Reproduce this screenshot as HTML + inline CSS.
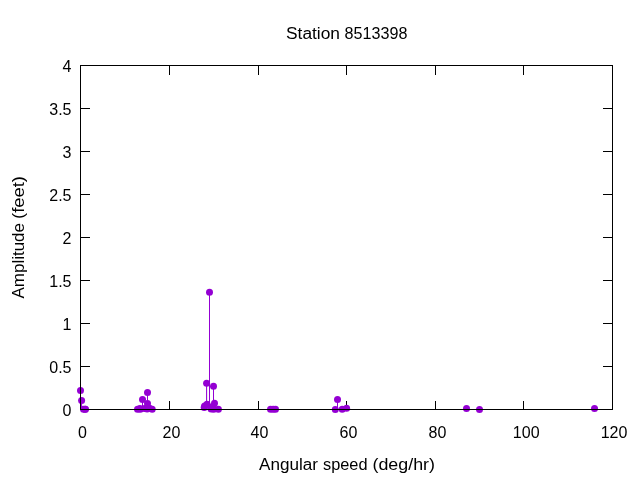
<!DOCTYPE html>
<html lang="en"><head><meta charset="utf-8"><title>Station 8513398</title>
<style>
html,body{margin:0;padding:0;background:#fff;}
svg{display:block;}
text{font-family:"Liberation Sans", sans-serif;font-size:16px;fill:#000;}
</style></head>
<body>
<svg width="640" height="480" viewBox="0 0 640 480">
<rect width="640" height="480" fill="#fff"/>
<g stroke="#000" stroke-width="1" fill="none" shape-rendering="crispEdges">
<line x1="80.5" y1="366.5" x2="90.0" y2="366.5"/>
<line x1="612.5" y1="366.5" x2="603.0" y2="366.5"/>
<line x1="80.5" y1="323.5" x2="90.0" y2="323.5"/>
<line x1="612.5" y1="323.5" x2="603.0" y2="323.5"/>
<line x1="80.5" y1="280.5" x2="90.0" y2="280.5"/>
<line x1="612.5" y1="280.5" x2="603.0" y2="280.5"/>
<line x1="80.5" y1="237.5" x2="90.0" y2="237.5"/>
<line x1="612.5" y1="237.5" x2="603.0" y2="237.5"/>
<line x1="80.5" y1="194.5" x2="90.0" y2="194.5"/>
<line x1="612.5" y1="194.5" x2="603.0" y2="194.5"/>
<line x1="80.5" y1="151.5" x2="90.0" y2="151.5"/>
<line x1="612.5" y1="151.5" x2="603.0" y2="151.5"/>
<line x1="80.5" y1="108.5" x2="90.0" y2="108.5"/>
<line x1="612.5" y1="108.5" x2="603.0" y2="108.5"/>
<line x1="169.5" y1="409.5" x2="169.5" y2="401.0"/>
<line x1="169.5" y1="65.5" x2="169.5" y2="75.0"/>
<line x1="258.5" y1="409.5" x2="258.5" y2="401.0"/>
<line x1="258.5" y1="65.5" x2="258.5" y2="75.0"/>
<line x1="346.5" y1="409.5" x2="346.5" y2="401.0"/>
<line x1="346.5" y1="65.5" x2="346.5" y2="75.0"/>
<line x1="435.5" y1="409.5" x2="435.5" y2="401.0"/>
<line x1="435.5" y1="65.5" x2="435.5" y2="75.0"/>
<line x1="523.5" y1="409.5" x2="523.5" y2="401.0"/>
<line x1="523.5" y1="65.5" x2="523.5" y2="75.0"/>
</g>
<g stroke="#9400d3" stroke-width="1.05" fill="none">
<line x1="80.50" y1="390.40" x2="80.50" y2="409.50"/>
<line x1="81.60" y1="400.50" x2="81.60" y2="409.50"/>
<line x1="142.50" y1="399.40" x2="142.50" y2="409.50"/>
<line x1="147.50" y1="403.50" x2="147.50" y2="409.50"/>
<line x1="147.50" y1="392.50" x2="147.50" y2="409.50"/>
<line x1="206.60" y1="383.25" x2="206.60" y2="409.50"/>
<line x1="207.00" y1="404.30" x2="207.00" y2="409.50"/>
<line x1="209.50" y1="292.30" x2="209.50" y2="409.50"/>
<line x1="213.50" y1="386.30" x2="213.50" y2="409.50"/>
<line x1="214.50" y1="403.30" x2="214.50" y2="409.50"/>
<line x1="337.50" y1="399.40" x2="337.50" y2="409.50"/>
</g>
<g fill="#9400d3">
<circle cx="80.50" cy="390.40" r="3.5"/>
<circle cx="81.60" cy="400.50" r="3.5"/>
<circle cx="83.50" cy="409.30" r="3.5"/>
<circle cx="85.10" cy="409.30" r="3.5"/>
<circle cx="85.50" cy="409.30" r="3.5"/>
<circle cx="137.50" cy="409.20" r="3.5"/>
<circle cx="139.90" cy="408.60" r="3.5"/>
<circle cx="140.30" cy="409.20" r="3.5"/>
<circle cx="142.50" cy="399.40" r="3.5"/>
<circle cx="144.40" cy="408.40" r="3.5"/>
<circle cx="149.60" cy="408.30" r="3.5"/>
<circle cx="147.50" cy="403.50" r="3.5"/>
<circle cx="147.10" cy="409.00" r="3.5"/>
<circle cx="147.50" cy="392.50" r="3.5"/>
<circle cx="152.20" cy="409.30" r="3.5"/>
<circle cx="204.20" cy="407.50" r="3.5"/>
<circle cx="204.60" cy="406.00" r="3.5"/>
<circle cx="206.60" cy="383.25" r="3.5"/>
<circle cx="207.00" cy="404.30" r="3.5"/>
<circle cx="209.50" cy="292.30" r="3.5"/>
<circle cx="211.10" cy="409.00" r="3.5"/>
<circle cx="211.40" cy="407.00" r="3.5"/>
<circle cx="213.30" cy="408.00" r="3.5"/>
<circle cx="213.50" cy="386.30" r="3.5"/>
<circle cx="213.70" cy="409.30" r="3.5"/>
<circle cx="214.50" cy="403.30" r="3.5"/>
<circle cx="218.40" cy="409.30" r="3.5"/>
<circle cx="270.50" cy="409.30" r="3.5"/>
<circle cx="273.20" cy="409.30" r="3.5"/>
<circle cx="275.50" cy="409.30" r="3.5"/>
<circle cx="335.30" cy="409.40" r="3.5"/>
<circle cx="337.50" cy="399.40" r="3.5"/>
<circle cx="342.20" cy="409.30" r="3.5"/>
<circle cx="346.60" cy="408.30" r="3.5"/>
<circle cx="466.50" cy="408.40" r="3.5"/>
<circle cx="479.50" cy="409.50" r="3.5"/>
<circle cx="594.50" cy="408.40" r="3.5"/>
</g>
<rect x="80.5" y="65.5" width="532.0" height="344.0" stroke="#000" stroke-width="1" fill="none" shape-rendering="crispEdges"/>
<g>
<text x="71.5" y="415.5" text-anchor="end">0</text>
<text x="71.5" y="372.5" text-anchor="end">0.5</text>
<text x="71.5" y="329.5" text-anchor="end">1</text>
<text x="71.5" y="286.5" text-anchor="end">1.5</text>
<text x="71.5" y="243.5" text-anchor="end">2</text>
<text x="71.5" y="200.5" text-anchor="end">2.5</text>
<text x="71.5" y="157.5" text-anchor="end">3</text>
<text x="71.5" y="114.5" text-anchor="end">3.5</text>
<text x="71.5" y="71.5" text-anchor="end">4</text>
<text x="82.5" y="437.9" text-anchor="middle">0</text>
<text x="171.5" y="437.9" text-anchor="middle">20</text>
<text x="259.5" y="437.9" text-anchor="middle">40</text>
<text x="348.5" y="437.9" text-anchor="middle">60</text>
<text x="437.5" y="437.9" text-anchor="middle">80</text>
<text x="526.2" y="437.9" text-anchor="middle">100</text>
<text x="614.0" y="437.9" text-anchor="middle">120</text>
<text y="39.10"><tspan x="286.00" textLength="54.00" lengthAdjust="spacingAndGlyphs">Station</tspan> <tspan x="344.60" textLength="62.80" lengthAdjust="spacingAndGlyphs">8513398</tspan></text>
<text y="470.00"><tspan x="259.00" textLength="59.00" lengthAdjust="spacingAndGlyphs">Angular</tspan> <tspan x="323.00" textLength="44.50" lengthAdjust="spacingAndGlyphs">speed</tspan> <tspan x="372.50" textLength="62.50" lengthAdjust="spacingAndGlyphs">(deg/hr)</tspan></text>
<text transform="translate(24.2,0) rotate(-90)" y="0"><tspan x="-298.50" textLength="75.50" lengthAdjust="spacingAndGlyphs">Amplitude</tspan> <tspan x="-219.00" textLength="43.00" lengthAdjust="spacingAndGlyphs">(feet)</tspan></text>
</g>
</svg>
</body></html>
